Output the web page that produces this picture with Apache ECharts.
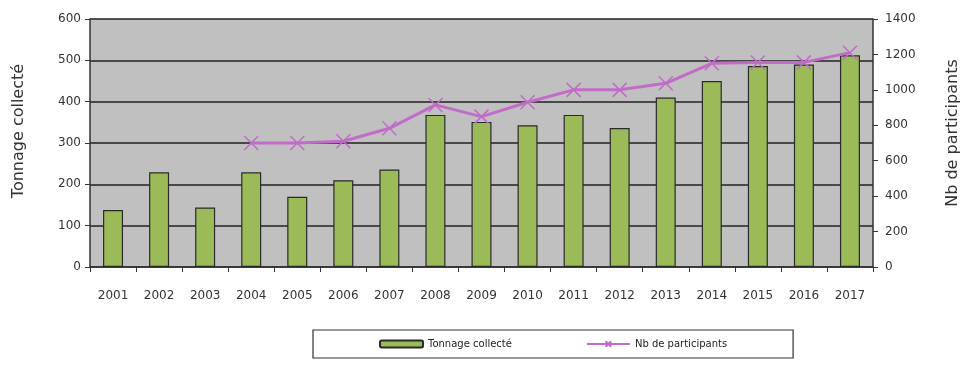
<!DOCTYPE html>
<html><head><meta charset="utf-8">
<script src="https://cdn.jsdelivr.net/npm/echarts@6/dist/echarts.min.js"></script>
<style>html,body{margin:0;padding:0;background:#fff}#c{width:972px;height:371px}</style>
</head><body><div id="c"></div>
<script>
var years = ['2001','2002','2003','2004','2005','2006','2007','2008','2009','2010','2011','2012','2013','2014','2015','2016','2017'];
var tonnage = [138,229,144,229,170,210,236,368,351,343,368,336,410,450,486,490,512];
var participants = [null,null,null,700,700,710,783,915,849,930,1000,1000,1037,1150,1154,1155,1210];
var leftTicks = [0,100,200,300,400,500,600];
var rightTicks = [0,200,400,600,800,1000,1200,1400];

var font = 'DejaVu Sans';
var chart = echarts.init(document.getElementById('c'));
chart.setOption({
  animation:false,
  textStyle:{fontFamily:font},
  grid:{left:90,right:99,top:19,bottom:104,show:true,backgroundColor:'#c0c0c0',borderWidth:0},
  legend:{
    left:313, top:330,
    padding:[9,66,9,66], itemGap:74,
    borderColor:'#333', borderWidth:1.2,
    itemWidth:43, itemHeight:7,
    textStyle:{fontSize:10,color:'#222',fontFamily:font},
    data:[{name:'Tonnage collecté'},{name:'Nb de participants'}]
  },
  xAxis:{
    type:'category', data:years,
    axisLine:{lineStyle:{color:'#333',width:1.5}},
    axisTick:{show:true,length:5,lineStyle:{color:'#333'}},
    axisLabel:{fontSize:12,color:'#333',margin:23,fontFamily:font}
  },
  yAxis:[{
    type:'value', min:0, max:600, interval:100,
    name:'Tonnage collecté', nameLocation:'middle', nameGap:63, nameRotate:90,
    nameTextStyle:{fontSize:16,color:'#333',fontFamily:font,padding:[0,0,0,24]},
    axisLine:{show:true,lineStyle:{color:'#333',width:1.5}},
    axisTick:{show:true,length:5,lineStyle:{color:'#333'}},
    axisLabel:{fontSize:12,color:'#333',margin:9,fontFamily:font,
      formatter:function(v){return leftTicks.indexOf(v)>=0?String(v):'';}},
    splitLine:{show:true,lineStyle:{color:'#222',width:1.5}}
  },{
    type:'value', min:0, max:1400, interval:200, position:'right',
    name:'Nb de participants', nameLocation:'middle', nameGap:72, nameRotate:90,
    nameTextStyle:{fontSize:16,color:'#333',fontFamily:font,padding:[0,0,0,20]},
    axisLine:{show:true,lineStyle:{color:'#333',width:1.5}},
    axisTick:{show:true,length:5,lineStyle:{color:'#333'}},
    axisLabel:{fontSize:12,color:'#333',margin:12,fontFamily:font,
      formatter:function(v){return rightTicks.indexOf(v)>=0?String(v):'';}},
    splitLine:{show:false}
  }],
  series:[{
    name:'Tonnage collecté', type:'bar', data:tonnage, barWidth:20,
    itemStyle:{color:'#9bbb59',borderColor:'#2a2a2a',borderWidth:1.2}
  },{
    name:'Nb de participants', type:'line', yAxisIndex:1, data:participants,
    lineStyle:{color:'#c06cc8',width:3},
    symbol:'path://M0,0L10,10M10,0L0,10', symbolSize:14,
    itemStyle:{color:'rgba(0,0,0,0)',borderColor:'#c06cc8',borderWidth:1.5}
  }]
});
</script></body></html>
